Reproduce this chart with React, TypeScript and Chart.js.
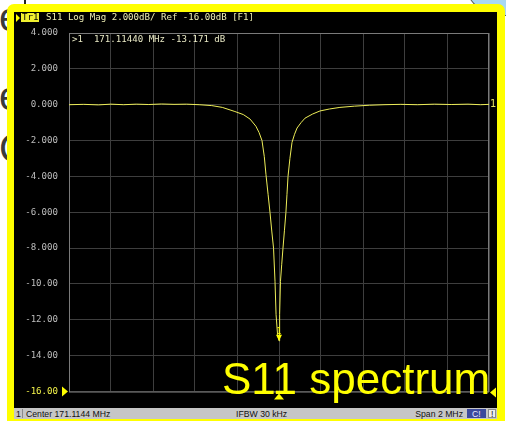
import React, { useEffect, useRef } from "react";
import { Chart, registerables } from "chart.js";

Chart.register(...registerables);

// Stimulus: centre frequency and span of the sweep
const CENTER_MHZ = 171.1144;
const SPAN_MHZ = 2;

// Trace 1 (S11, log magnitude) sampled at offsets from the centre frequency
const OFFSET_KHZ = [
  -1000, -930, -860, -800, -740, -680, -620, -560, -500, -440, -380, -320, -270,
  -210, -170, -138, -110, -95, -81, -70, -62, -52, -43, -34, -26, -19, -14, -7, 0,
  3, 7, 13, 19, 26, 33, 38, 43, 52, 62, 74, 86, 105, 124, 160, 195, 240, 290, 360,
  430, 500, 580, 660, 740, 820, 900, 960, 1000,
];
const S11_DB = [
  0.0, 0.02, -0.01, 0.03, 0.0, 0.03, 0.01, 0.04, 0.02, 0.03, 0.0, -0.05, -0.15,
  -0.38, -0.55, -0.8, -1.2, -1.55, -2.0, -2.9, -3.9, -5.0, -6.0, -7.1, -8.0, -9.85,
  -11.7, -12.8, -13.171, -11.7, -9.85, -8.9, -8.0, -7.0, -6.0, -5.0, -4.0, -3.0,
  -2.1, -1.65, -1.3, -1.0, -0.75, -0.52, -0.35, -0.24, -0.15, -0.08, -0.03, 0.0,
  0.02, 0.0, 0.03, 0.01, 0.03, 0.0, 0.02,
];

// Marker 1
const MARKER_MHZ = 171.1144;
const MARKER_DB = -13.171;

// Vertical scale: 2 dB/div, reference -16 dB at the bottom line
const Y_TICKS = [4, 2, 0, -2, -4, -6, -8, -10, -12, -14, -16];
const Y_TICK_LABELS = [
  "4.000", "2.000", "0.000", "-2.000", "-4.000", "-6.000", "-8.000",
  "-10.00", "-12.00", "-14.00", "-16.00",
];
const REF_DB = -16;
const X_DIVISIONS = 10;

const TRACE = "#eded58";
const YELLOW = "#ffff00";
const GRID = "#3e3e3e";
const FRAME = "#7a7a7a";
const MONO = "'DejaVu Sans Mono', 'Liberation Mono', monospace";
const SANS = "'Liberation Sans', Arial, sans-serif";

type TxtProps = {
  x: number;
  base: number;
  size: number;
  font: string;
  color: string;
  children: React.ReactNode;
  align?: "left" | "right";
  style?: React.CSSProperties;
};

function Txt({ x, base, size, font, color, children, align = "left", style }: TxtProps) {
  const pos: React.CSSProperties =
    align === "left" ? { left: x } : { right: 506 - x };
  return (
    <div
      style={{
        position: "absolute",
        top: base - 0.846 * size,
        ...pos,
        fontFamily: font,
        fontSize: size,
        lineHeight: `${size}px`,
        color,
        whiteSpace: "pre",
        ...style,
      }}
    >
      {children}
    </div>
  );
}

function TraceChart() {
  const ref = useRef<HTMLCanvasElement | null>(null);

  useEffect(() => {
    if (!ref.current) return;
    const xMin = CENTER_MHZ - SPAN_MHZ / 2;
    const xMax = CENTER_MHZ + SPAN_MHZ / 2;

    const overlay = {
      id: "vnaOverlay",
      beforeDatasetsDraw(chart: any) {
        const { ctx, chartArea: a } = chart;
        ctx.save();
        ctx.strokeStyle = FRAME;
        ctx.lineWidth = 1;
        ctx.strokeRect(a.left + 0.5, a.top + 0.5, a.right - a.left - 1, a.bottom - a.top);
        ctx.restore();
      },
      afterDatasetsDraw(chart: any) {
        const { ctx, chartArea: a, scales } = chart;
        const mx = scales.x.getPixelForValue(MARKER_MHZ);
        const my = scales.y.getPixelForValue(MARKER_DB);
        const ry = scales.y.getPixelForValue(REF_DB);
        const zy = scales.y.getPixelForValue(0);
        ctx.save();
        ctx.fillStyle = YELLOW;
        ctx.strokeStyle = YELLOW;
        // marker 1 on the trace
        ctx.lineWidth = 1;
        ctx.beginPath();
        ctx.moveTo(mx, my);
        ctx.lineTo(mx - 3, my - 6);
        ctx.lineTo(mx + 3, my - 6);
        ctx.closePath();
        ctx.fill();
        ctx.font = `8px ${MONO}`;
        ctx.textAlign = "center";
        ctx.textBaseline = "alphabetic";
        ctx.fillText("1", mx, my - 7);
        // marker position on the frequency axis
        ctx.beginPath();
        ctx.moveTo(mx, a.bottom + 2);
        ctx.lineTo(mx - 5, a.bottom + 8);
        ctx.lineTo(mx + 5, a.bottom + 8);
        ctx.closePath();
        ctx.fill();
        // reference level pointers
        ctx.beginPath();
        ctx.moveTo(a.left - 1, ry);
        ctx.lineTo(a.left - 7, ry - 5);
        ctx.lineTo(a.left - 7, ry + 5);
        ctx.closePath();
        ctx.fill();
        ctx.beginPath();
        ctx.moveTo(a.right + 1, ry + 1);
        ctx.lineTo(a.right + 7, ry - 4);
        ctx.lineTo(a.right + 7, ry + 6);
        ctx.closePath();
        ctx.fill();
        // trace number at the right edge
        ctx.font = `10px ${MONO}`;
        ctx.textAlign = "left";
        ctx.textBaseline = "middle";
        ctx.fillStyle = "#e4e460";
        ctx.fillText("1", a.right + 1, zy);
        ctx.restore();
      },
    };

    const chart = new Chart(ref.current, {
      type: "line",
      data: {
        datasets: [
          {
            data: OFFSET_KHZ.map((k, i) => ({ x: CENTER_MHZ + k / 1000, y: S11_DB[i] })),
            borderColor: TRACE,
            borderWidth: 1,
            pointRadius: 0,
            tension: 0,
          },
        ],
      },
      options: {
        animation: false,
        responsive: false,
        devicePixelRatio: 1,
        events: [],
        layout: { padding: { left: 0, top: 21, right: 8, bottom: 14 } },
        plugins: { legend: { display: false }, tooltip: { enabled: false } },
        scales: {
          x: {
            type: "linear",
            min: xMin,
            max: xMax,
            afterBuildTicks: (s: any) => {
              s.ticks = Array.from({ length: X_DIVISIONS + 1 }, (_, i) => ({
                value: xMin + (i * SPAN_MHZ) / X_DIVISIONS,
              }));
            },
            afterFit: (s: any) => {
              s.height = 0;
            },
            ticks: { display: false },
            grid: { color: GRID, drawTicks: false, lineWidth: 1 },
            border: { display: false },
          },
          y: {
            type: "linear",
            min: -16,
            max: 4,
            afterBuildTicks: (s: any) => {
              s.ticks = Y_TICKS.slice().reverse().map((v) => ({ value: v }));
            },
            afterFit: (s: any) => {
              s.width = 55;
            },
            ticks: {
              padding: 11,
              font: { family: MONO, size: 9.1 },
              color: (c: any) => (c.tick && c.tick.value === REF_DB ? "#f4f44a" : "#bdbdbd"),
              callback: (v: any) => Y_TICK_LABELS[Y_TICKS.indexOf(Number(v))],
            },
            grid: { color: GRID, drawTicks: false, lineWidth: 1 },
            border: { display: false },
          },
        },
      },
      plugins: [overlay],
    });
    return () => chart.destroy();
  }, []);

  return (
    <canvas
      ref={ref}
      width={483}
      height={396}
      style={{ position: "absolute", left: 14, top: 12, width: 483, height: 396 }}
    />
  );
}

export default function App() {
  return (
    <div
      style={{
        position: "fixed",
        left: 0,
        top: 0,
        width: 506,
        height: 421,
        overflow: "hidden",
        background: "#ffffff",
      }}
    >
      {/* slide lettering behind the screenshot */}
      <Txt x={-1} base={31} size={40} font={SANS} color="#3a3a3a">e</Txt>
      <Txt x={-1} base={110} size={40} font={SANS} color="#3a3a3a">e</Txt>
      <Txt x={-1} base={162} size={40} font={SANS} color="#3a3a3a">C</Txt>
      <div style={{ position: "absolute", left: 24, top: 0, width: 2, height: 4, background: "#222" }} />
      <div
        style={{
          position: "absolute",
          left: 466,
          top: -44,
          width: 74,
          height: 58,
          borderRadius: "50%",
          background: "#a8d8f2",
          border: "1.5px solid #5a5a5a",
        }}
      />

      {/* yellow highlight frame and instrument screen */}
      <div
        style={{
          position: "absolute",
          left: 7,
          top: 4,
          width: 498,
          height: 430,
          background: YELLOW,
          borderRadius: 7,
        }}
      />
      <div style={{ position: "absolute", left: 14, top: 12, width: 483, height: 396, background: "#000" }} />

      <TraceChart />

      {/* trace title line */}
      <div
        style={{
          position: "absolute",
          left: 16,
          top: 14,
          width: 0,
          height: 0,
          borderTop: "4px solid transparent",
          borderBottom: "4px solid transparent",
          borderLeft: `4px solid ${YELLOW}`,
        }}
      />
      <div style={{ position: "absolute", left: 21, top: 13, width: 18, height: 9, background: "#f0f030" }} />
      <Txt x={22} base={21} size={9.1} font={MONO} color="#000">Tr1</Txt>
      <Txt x={46} base={21} size={9.1} font={MONO} color="#eeeeb4">
        S11 Log Mag 2.000dB/ Ref -16.00dB [F1]
      </Txt>

      {/* marker readout */}
      <Txt x={72} base={43} size={9.1} font={MONO} color="#e8e8c4">
        {">1  171.11440 MHz -13.171 dB"}
      </Txt>

      {/* status bar */}
      <div style={{ position: "absolute", left: 14, top: 408, width: 483, height: 11, background: "#c6c6c6" }} />
      <div style={{ position: "absolute", left: 22, top: 409, width: 1, height: 9, background: "#8a8a8a" }} />
      <Txt x={16} base={417} size={8.7} font={SANS} color="#111">1</Txt>
      <Txt x={26} base={417} size={8.7} font={SANS} color="#111">Center 171.1144 MHz</Txt>
      <Txt x={236} base={417} size={8.7} font={SANS} color="#111">IFBW 30 kHz</Txt>
      <Txt x={463} base={417} size={8.7} font={SANS} color="#111" align="right">Span 2 MHz</Txt>
      <div
        style={{
          position: "absolute",
          left: 467,
          top: 409,
          width: 19,
          height: 9,
          background: "#3c4a9c",
        }}
      />
      <Txt x={472} base={417} size={8.7} font={SANS} color="#e8e8ff">C!</Txt>
      <div
        style={{
          position: "absolute",
          left: 488,
          top: 409,
          width: 8,
          height: 9,
          background: "#ececec",
          boxSizing: "border-box",
          border: "1px solid #8a8a8a",
        }}
      />
      <Txt x={491} base={417} size={8.7} font={SANS} color="#111">!</Txt>

      {/* slide caption over the screen */}
      <Txt x={222} base={394} size={44} font={SANS} color={YELLOW}>S11 spectrum</Txt>
    </div>
  );
}
